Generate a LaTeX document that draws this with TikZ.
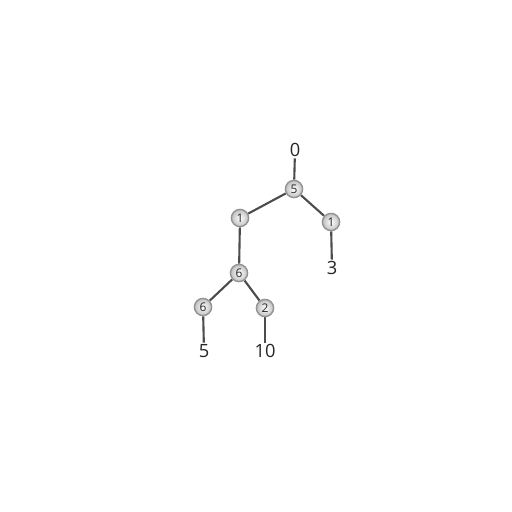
\documentclass[tikz,border=0pt]{standalone}
\usepackage{fontspec}
\setmainfont{Open Sans}
\usetikzlibrary{calc, shapes, backgrounds}

\begin{document}
\begin{tikzpicture}
  [
    x = 0.5mm, y = -0.5mm, thick,
    ball/.style = {draw = gray!85, line width = 2pt, circle,
      minimum size = 8.6mm, inner sep = 0pt,
      inner color = white, outer color = gray!50,
      font = \fontsize{17}{17}\selectfont, text = black!85},
    tag/.style = {inner sep = 2pt,
      font = \fontsize{26}{26}\selectfont, text = black!85},
    link/.style = {draw = black!70, line width = 3pt}
  ]
  \useasboundingbox (0,0) rectangle (512,512);
  % circles
  \begin{scope}[nodes = {ball}]
    \node (Root)  at (294,189) {5};
    \node (L)     at (240,218) {1};
    \node (R)     at (331,222) {1};
    \node (M)     at (239,273) {6};
    \node (ML)    at (203,307) {6};
    \node (MR)    at (265,308) {2};
  \end{scope}
  % leaf values
  \begin{scope}[nodes = {tag}]
    \node (Top)  at (295,150) {0};
    \node (RV)   at (332,268) {3};
    \node (MLV)  at (204,351) {5};
    \node (MRV)  at (265,351) {10};
  \end{scope}
  \begin{scope}[on background layer]
    \fill[white] (0,0) rectangle (512,512);
    \draw[link] (Top) -- (Root);
    \draw[link] (Root) -- (L);
    \draw[link] (Root) -- (R);
    \draw[link] (L) -- (M);
    \draw[link] (M) -- (ML);
    \draw[link] (M) -- (MR);
    \draw[link] (R) -- (RV);
    \draw[link] (ML) -- (MLV);
    \draw[link] (MR) -- (MRV);
  \end{scope}
\end{tikzpicture}
\end{document}
